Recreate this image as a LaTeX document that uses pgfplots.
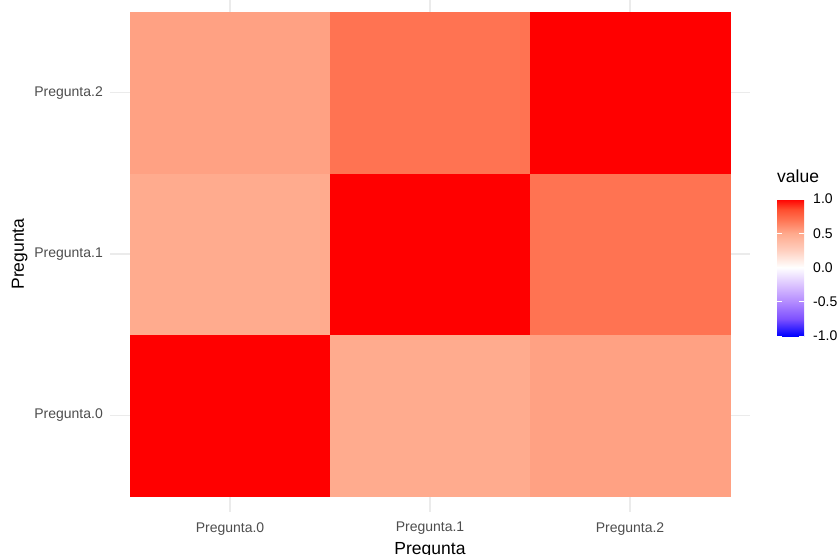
\documentclass[border=0pt]{standalone}
\usepackage{pgfplots}
\pgfplotsset{compat=1.18}
\usepackage{fontspec}
\setmainfont{Liberation Sans}
\definecolor{gridgray}{HTML}{EBEBEB}
\definecolor{gray30}{HTML}{4D4D4D}

\pgfplotsset{
  colormap={ggdiv}{
    rgb255(0pt)=(0,0,255)
    rgb255(25pt)=(126,81,255)
    rgb255(50pt)=(179,139,255)
    rgb255(75pt)=(220,196,255)
    rgb255(100pt)=(255,255,255)
    rgb255(125pt)=(255,207,191)
    rgb255(150pt)=(255,169,140)
    rgb255(170pt)=(255,115,82)
    rgb255(185pt)=(255,77,46)
    rgb255(200pt)=(255,0,0)
  }
}

\begin{document}
\begin{tikzpicture}
\begin{axis}[
    at={(110pt,-512.1pt)}, anchor=south west,
    scale only axis,
    width=640pt, height=516.2pt,
    xmin=0.4, xmax=3.6, ymin=0.4, ymax=3.6,
    xtick={1,2,3}, ytick={1,2,3},
    xticklabels={Pregunta.0,Pregunta.1,Pregunta.2},
    yticklabels={Pregunta.0,Pregunta.1,Pregunta.2},
    grid=major,
    major grid style={gridgray, line width=1.6pt},
    axis line style={draw=none},
    major tick length=0pt,
    tick label style={font=\fontsize{14}{16}\selectfont, text=gray30},
    xticklabel style={inner sep=0pt, anchor=north, yshift=-10pt},
    yticklabel style={inner sep=0pt, anchor=east, xshift=-7pt},
    xlabel={Pregunta},
    ylabel={Pregunta},
    label style={font=\fontsize{17.5}{20}\selectfont, text=black},
    xlabel style={at={(axis description cs:0.5,0)}, anchor=north, inner sep=0pt, yshift=-30pt},
    ylabel style={at={(axis description cs:-0.1287,0.5)}, anchor=south, inner sep=0pt},
    colormap name=ggdiv,
    point meta min=-1, point meta max=1,
    colorbar,
    colorbar/width=27pt,
    colorbar style={
        at={(parent axis.south east)}, anchor=south west,
        xshift=18.5pt, yshift=176.1pt,
        scale only axis,
        width=27pt, height=137pt,
        axis line style={draw=none},
        ytick={-1,-0.5,0,0.5,1},
        yticklabels={-1.0,-0.5,0.0,0.5,1.0},
        ytick pos=both, yticklabel pos=right,
        tick align=inside,
        major tick length=5.4pt,
        major tick style={white, line width=0.8pt},
        yticklabel style={font=\fontsize{14}{16}\selectfont, text=black, inner sep=0pt, anchor=west, xshift=9pt},
        title={value},
        title style={at={(0,1)}, anchor=south west, inner sep=0pt, yshift=10pt, font=\fontsize{17.5}{20}\selectfont},
    },
]
\addplot[matrix plot*, mesh/cols=3, point meta=explicit] coordinates {
    (1,1) [1.00] (2,1) [0.49] (3,1) [0.53]
    (1,2) [0.49] (2,2) [1.00] (3,2) [0.70]
    (1,3) [0.53] (2,3) [0.70] (3,3) [1.00]
};
\end{axis}
\pgfresetboundingbox
\useasboundingbox (0pt,0pt) rectangle (840pt,-554pt);
\end{tikzpicture}
\end{document}
